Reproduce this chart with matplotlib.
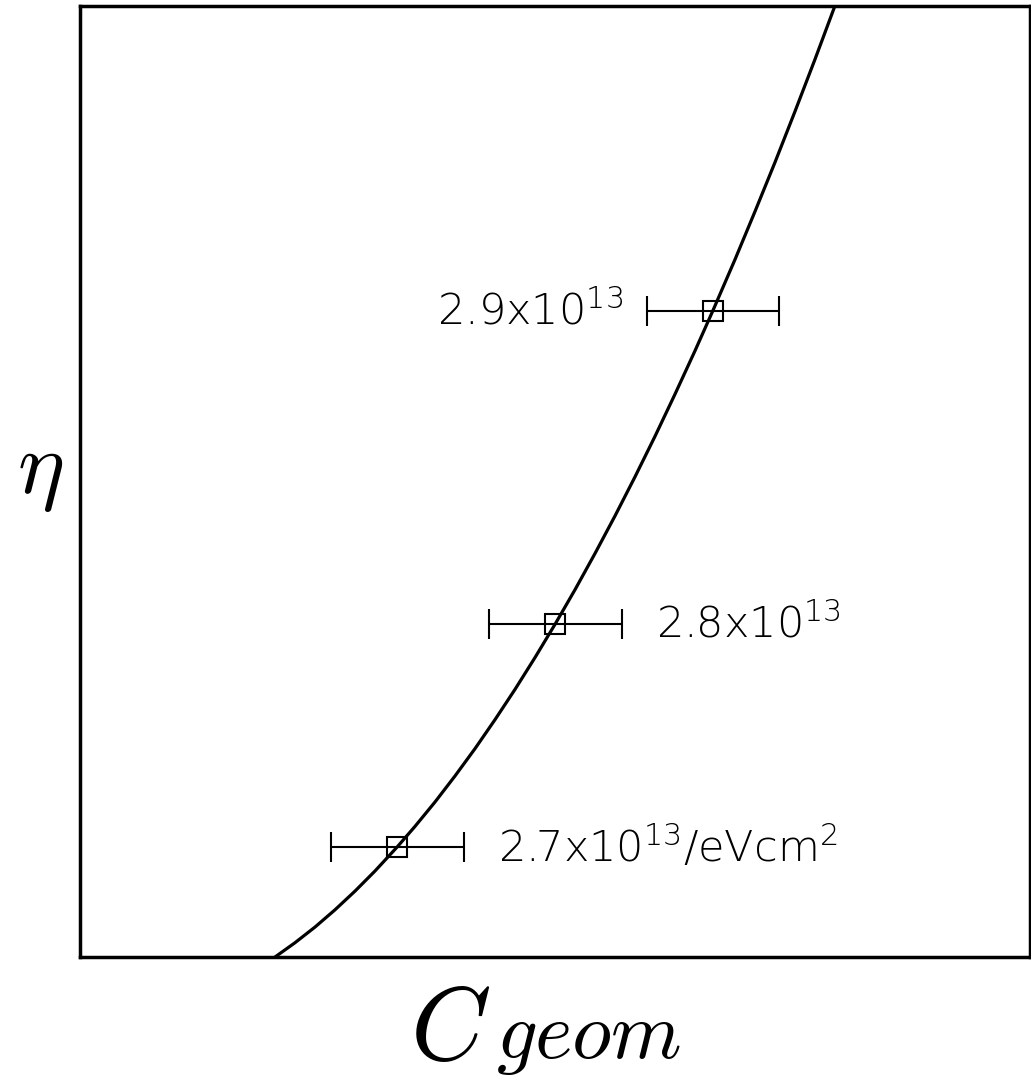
import numpy as np
import matplotlib
matplotlib.use("Agg")
import matplotlib.pyplot as plt

plt.rcParams["mathtext.fontset"] = "custom"
plt.rcParams["mathtext.rm"] = "DejaVu Sans:light"
plt.rcParams["mathtext.it"] = "DejaVu Sans:light"

# model curve eta vs C_geom (arbitrary units, axes span 0..100)
curve_x = [20.53, 22.63, 24.74, 26.84, 28.95, 31.05, 33.37, 35.26, 37.37,
           39.47, 41.58, 43.68, 45.79, 47.89, 50.00, 52.11, 54.21, 56.32,
           58.42, 60.53, 62.63, 64.74, 66.63, 68.95, 71.05, 73.16, 75.26,
           77.37, 79.58]
curve_y = [0.00, 1.50, 3.15, 4.96, 6.93, 9.04, 11.55, 13.73, 16.30,
           19.03, 21.91, 24.95, 28.14, 31.48, 34.98, 38.63, 42.43, 46.39,
           50.49, 54.76, 59.18, 63.75, 67.99, 73.35, 78.39, 83.57, 88.91,
           94.40, 100.32]

# measured points with horizontal uncertainty
pts_x = [33.37, 50.00, 66.63]
pts_y = [11.55, 34.98, 67.90]
pts_xerr = [7.0, 7.0, 6.9]
pts_labels = [r"2.7x10$^{\mathrm{13}}$/eVcm$^{\mathrm{2}}$",
              r"2.8x10$^{\mathrm{13}}$",
              r"2.9x10$^{\mathrm{13}}$"]

fig = plt.figure(figsize=(10.31, 10.89), dpi=100)
ax = fig.add_axes([80 / 1031, 132 / 1089, 950 / 1031, 951 / 1089])

ax.plot(curve_x, curve_y, color="black", lw=2.3, solid_joinstyle="round")
ax.errorbar(pts_x, pts_y, xerr=pts_xerr, fmt="s", ms=14, mfc="none",
            mec="black", mew=1.5, ecolor="black", elinewidth=1.5,
            capsize=11, capthick=2.4, zorder=3)

# value labels: right of the bar for the lower two, left for the top one
lbl_kw = dict(fontsize=31, family="DejaVu Sans", fontweight="light",
              va="center", color="black")
for i, (x, y, e, s) in enumerate(zip(pts_x, pts_y, pts_xerr, pts_labels)):
    if i < 2:
        ax.text(x + e + 3.6, y, s, ha="left", **lbl_kw)
    else:
        ax.text(x - e - 2.6, y, s, ha="right", **lbl_kw)

ax.set_xlim(0, 100)
ax.set_ylim(0, 100)
ax.set_xticks([])
ax.set_yticks([])
for sp in ax.spines.values():
    sp.set_linewidth(2.5)

# axis labels: C with a small "geom" sitting almost on the same baseline
fig.text(490 / 1031, 29 / 1089, r"$C$", fontsize=74,
         math_fontfamily="cm", ha="right", va="baseline")
fig.text(496 / 1031, 31 / 1089, r"$geom$", fontsize=58,
         math_fontfamily="cm", ha="left", va="baseline")
fig.text(40 / 1031, 1 - 470 / 1089, r"$\eta$", fontsize=64,
         math_fontfamily="cm", ha="center", va="center")

fig.savefig("out.png", dpi=100)
